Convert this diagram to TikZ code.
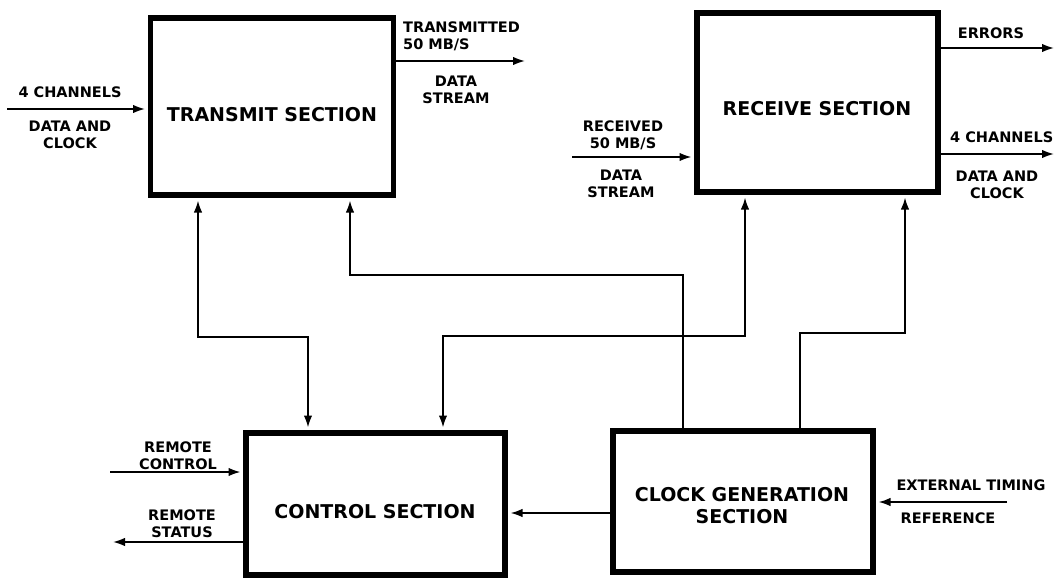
\documentclass[tikz,border=0pt]{standalone}
\usepackage{fontspec}
\setmainfont{DejaVu Sans}
\usetikzlibrary{arrows.meta}
\begin{document}
\begin{tikzpicture}[x=1pt,y=-1pt,
  blk/.style={draw, line width=5.5pt, inner sep=0pt, rectangle},
  big/.style={font=\fontsize{19}{22}\selectfont\bfseries, inner sep=0pt, align=center},
  sml/.style={font=\fontsize{14.5}{17}\selectfont\bfseries, inner sep=0pt, align=center},
  tip/.tip={Latex[length=12pt,width=8.5pt]},
  conn/.style={line width=1.8pt, -tip},
  conn2/.style={line width=1.8pt, tip-tip, shorten <=2.75pt, shorten >=2.75pt},
  tobox/.style={shorten >=2.75pt}]
\useasboundingbox (0,0) rectangle (1055,578);
% blocks
\node[blk, minimum width=243pt, minimum height=177pt] (tx) at (272,106.5) {};
\node[blk, minimum width=241pt, minimum height=179pt] (rx) at (817.5,102.5) {};
\node[blk, minimum width=259pt, minimum height=142pt] (ctl) at (375.5,504) {};
\node[blk, minimum width=260pt, minimum height=141pt] (clk) at (743,501.5) {};
\node[big] (txt) at (272,115) {TRANSMIT SECTION};
\node[big] (rxt) at (817,109) {RECEIVE SECTION};
\node[big] (ctlt) at (375,512) {CONTROL SECTION};
\node[big] (clkt) at (742,506) {CLOCK GENERATION\\SECTION};
% free ends and bends
\coordinate (txin) at (7,109);
\coordinate (txout) at (525,61);
\coordinate (rxin) at (572,157);
\coordinate (errout) at (1054,48);
\coordinate (chout) at (1054,154);
\coordinate (rcin) at (110,472);
\coordinate (rsout) at (113,542);
\coordinate (extin) at (1007,502);
\coordinate (m5) at (560,513);
\coordinate (a1) at (198,337); \coordinate (a2) at (308,337);
\coordinate (b1) at (683,275); \coordinate (b2) at (350,275);
\coordinate (c1) at (443,336); \coordinate (c2) at (745,336);
\coordinate (d1) at (800,333); \coordinate (d2) at (905,333);
% connectors
\draw[conn,tobox] (txin) -- (txin -| tx.west);
\draw[conn] (tx.east |- txout) -- (txout);
\draw[conn,tobox] (rxin) -- (rxin -| rx.west);
\draw[conn] (rx.east |- errout) -- (errout);
\draw[conn] (rx.east |- chout) -- (chout);
\draw[conn,tobox] (rcin) -- (rcin -| ctl.west);
\draw[conn] (ctl.west |- rsout) -- (rsout);
\draw[conn,tobox] (extin) -- (extin -| clk.east);
\draw[conn,tobox] (clk.west |- m5) -- (ctl.east |- m5);
\draw[conn2] (tx.south -| a1) -- (a1) -- (a2) -- (ctl.north -| a2);
\draw[conn,tobox] (clk.north -| b1) -- (b1) -- (b2) -- (tx.south -| b2);
\draw[conn2] (ctl.north -| c1) -- (c1) -- (c2) -- (rx.south -| c2);
\draw[conn,tobox] (clk.north -| d1) -- (d1) -- (d2) -- (rx.south -| d2);
% labels
\node[sml] (l4ch) at (70,92) {4 CHANNELS};
\node[sml] (ldac) at (70,135) {DATA AND\\CLOCK};
\node[sml, align=left, anchor=west] (ltx) at (403,36.5) {TRANSMITTED\\50 MB/S};
\node[sml] (lds1) at (456,90) {DATA\\STREAM};
\node[sml] (lrx) at (623,135) {RECEIVED\\50 MB/S};
\node[sml] (lds2) at (621,184) {DATA\\STREAM};
\node[sml] (lerr) at (991,33) {ERRORS};
\node[sml, anchor=west] (l4ch2) at (950,137) {4 CHANNELS};
\node[sml] (ldac2) at (997,184.5) {DATA AND\\CLOCK};
\node[sml] (lrc) at (178,455.5) {REMOTE\\CONTROL};
\node[sml] (lrs) at (182,524) {REMOTE\\STATUS};
\node[sml] (lext) at (971,485) {EXTERNAL TIMING};
\node[sml] (lref) at (948,518) {REFERENCE};
\end{tikzpicture}
\end{document}
